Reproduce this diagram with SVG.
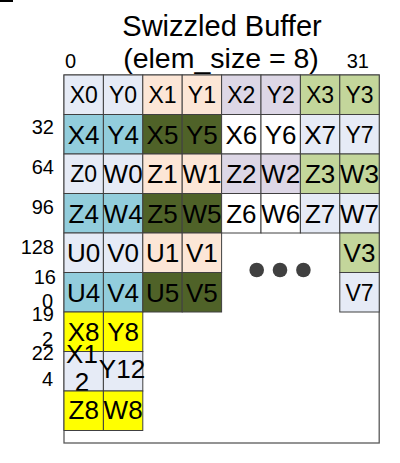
<svg xmlns="http://www.w3.org/2000/svg" width="400" height="463" viewBox="0 0 400 463">
<style>
.c{stroke:#404040;stroke-width:1}
.lb{fill:#e6ebf6}.pe{fill:#fce6d6}.la{fill:#ddd7e6}.gr{fill:#c3d69b}.tl{fill:#92cddc}.dk{fill:#4f6228}.wh{fill:#ffffff}.ye{fill:#ffff00}
.t{font-family:"Liberation Sans",Arial,sans-serif;font-size:26px;text-anchor:middle;fill:#000}
.s{font-size:23px}
.lab{font-family:"Liberation Sans",Arial,sans-serif;font-size:20px;text-anchor:end;fill:#000}
.ttl{font-family:"Liberation Sans",Arial,sans-serif;text-anchor:middle;fill:#000}
</style>
<rect width="400" height="463" fill="#fff"/>
<rect x="0" y="0" width="13" height="2" fill="#000"/>
<g id="title">
<text class="ttl" x="222" y="36" font-size="29">Swizzled Buffer</text>
<text class="ttl" x="221" y="68" font-size="28.5">(elem_size = 8)</text>
</g>
<g id="col-labels">
<text class="lab" x="65" y="68" font-size="17" text-anchor="start" style="text-anchor:start">0</text>
<text class="lab" x="369" y="68" font-size="16">31</text>
</g>
<g id="row-labels">
<text class="lab" x="54" y="134">32</text>
<text class="lab" x="54" y="174">64</text>
<text class="lab" x="54" y="214">96</text>
<text class="lab" x="54" y="254">128</text>
<text class="lab" x="56" y="284">16</text>
<text class="lab" x="53" y="308">0</text>
<text class="lab" x="54" y="321">19</text>
<text class="lab" x="53" y="346">2</text>
<text class="lab" x="54" y="360">22</text>
<text class="lab" x="53" y="386">4</text>
</g>
<rect id="buffer" x="64" y="75" width="315.2" height="368" fill="#fff" stroke="#595959" stroke-width="1.3"/>
<!-- row 0 -->
<g id="X0"><rect class="c lb" x="64" y="75" width="39.4" height="39.5"/><text class="t s" x="83.7" y="103">X0</text></g>
<g id="Y0"><rect class="c lb" x="103.4" y="75" width="39.4" height="39.5"/><text class="t s" x="123.1" y="103">Y0</text></g>
<g id="X1"><rect class="c pe" x="142.8" y="75" width="39.4" height="39.5"/><text class="t s" x="162.5" y="103">X1</text></g>
<g id="Y1"><rect class="c pe" x="182.2" y="75" width="39.4" height="39.5"/><text class="t s" x="201.9" y="103">Y1</text></g>
<g id="X2"><rect class="c la" x="221.6" y="75" width="39.4" height="39.5"/><text class="t s" x="241.3" y="103">X2</text></g>
<g id="Y2"><rect class="c la" x="261" y="75" width="39.4" height="39.5"/><text class="t s" x="280.7" y="103">Y2</text></g>
<g id="X3"><rect class="c gr" x="300.4" y="75" width="39.4" height="39.5"/><text class="t s" x="320.1" y="103">X3</text></g>
<g id="Y3"><rect class="c gr" x="339.8" y="75" width="39.4" height="39.5"/><text class="t s" x="359.5" y="103">Y3</text></g>
<!-- row 1 -->
<g id="X4"><rect class="c tl" x="64" y="114.5" width="39.4" height="39.5"/><text class="t" x="83.7" y="143.5">X4</text></g>
<g id="Y4"><rect class="c tl" x="103.4" y="114.5" width="39.4" height="39.5"/><text class="t" x="123.1" y="143.5">Y4</text></g>
<g id="X5"><rect class="c dk" x="142.8" y="114.5" width="39.4" height="39.5"/><text class="t" x="162.5" y="143.5">X5</text></g>
<g id="Y5"><rect class="c dk" x="182.2" y="114.5" width="39.4" height="39.5"/><text class="t" x="201.9" y="143.5">Y5</text></g>
<g id="X6"><rect class="c wh" x="221.6" y="114.5" width="39.4" height="39.5"/><text class="t" x="241.3" y="143.5">X6</text></g>
<g id="Y6"><rect class="c wh" x="261" y="114.5" width="39.4" height="39.5"/><text class="t" x="280.7" y="143.5">Y6</text></g>
<g id="X7"><rect class="c lb" x="300.4" y="114.5" width="39.4" height="39.5"/><text class="t" x="320.1" y="143.5">X7</text></g>
<g id="Y7"><rect class="c lb" x="339.8" y="114.5" width="39.4" height="39.5"/><text class="t s" x="359.5" y="142.5">Y7</text></g>
<!-- row 2 -->
<g id="Z0"><rect class="c lb" x="64" y="154" width="39.4" height="39.5"/><text class="t s" x="83.7" y="182">Z0</text></g>
<g id="W0"><rect class="c lb" x="103.4" y="154" width="39.4" height="39.5"/><text class="t" x="123.1" y="183">W0</text></g>
<g id="Z1"><rect class="c pe" x="142.8" y="154" width="39.4" height="39.5"/><text class="t" x="162.5" y="183">Z1</text></g>
<g id="W1"><rect class="c pe" x="182.2" y="154" width="39.4" height="39.5"/><text class="t" x="201.9" y="183">W1</text></g>
<g id="Z2"><rect class="c la" x="221.6" y="154" width="39.4" height="39.5"/><text class="t" x="241.3" y="183">Z2</text></g>
<g id="W2"><rect class="c la" x="261" y="154" width="39.4" height="39.5"/><text class="t" x="280.7" y="183">W2</text></g>
<g id="Z3"><rect class="c gr" x="300.4" y="154" width="39.4" height="39.5"/><text class="t" x="320.1" y="183">Z3</text></g>
<g id="W3"><rect class="c gr" x="339.8" y="154" width="39.4" height="39.5"/><text class="t" x="359.5" y="183">W3</text></g>
<!-- row 3 -->
<g id="Z4"><rect class="c tl" x="64" y="193.5" width="39.4" height="39.5"/><text class="t" x="83.7" y="222.5">Z4</text></g>
<g id="W4"><rect class="c tl" x="103.4" y="193.5" width="39.4" height="39.5"/><text class="t" x="123.1" y="222.5">W4</text></g>
<g id="Z5"><rect class="c dk" x="142.8" y="193.5" width="39.4" height="39.5"/><text class="t" x="162.5" y="222.5">Z5</text></g>
<g id="W5"><rect class="c dk" x="182.2" y="193.5" width="39.4" height="39.5"/><text class="t" x="201.9" y="222.5">W5</text></g>
<g id="Z6"><rect class="c wh" x="221.6" y="193.5" width="39.4" height="39.5"/><text class="t" x="241.3" y="222.5">Z6</text></g>
<g id="W6"><rect class="c wh" x="261" y="193.5" width="39.4" height="39.5"/><text class="t" x="280.7" y="222.5">W6</text></g>
<g id="Z7"><rect class="c lb" x="300.4" y="193.5" width="39.4" height="39.5"/><text class="t" x="320.1" y="222.5">Z7</text></g>
<g id="W7"><rect class="c lb" x="339.8" y="193.5" width="39.4" height="39.5"/><text class="t" x="359.5" y="222.5">W7</text></g>
<!-- row 4 -->
<g id="U0"><rect class="c lb" x="64" y="233" width="39.4" height="39.5"/><text class="t" x="83.7" y="262">U0</text></g>
<g id="V0"><rect class="c lb" x="103.4" y="233" width="39.4" height="39.5"/><text class="t" x="123.1" y="262">V0</text></g>
<g id="U1"><rect class="c pe" x="142.8" y="233" width="39.4" height="39.5"/><text class="t" x="162.5" y="262">U1</text></g>
<g id="V1"><rect class="c pe" x="182.2" y="233" width="39.4" height="39.5"/><text class="t" x="201.9" y="262">V1</text></g>
<g id="V3"><rect class="c gr" x="339.8" y="233" width="39.4" height="39.5"/><text class="t" x="359.5" y="262">V3</text></g>
<!-- row 5 -->
<g id="U4"><rect class="c tl" x="64" y="272.5" width="39.4" height="39.5"/><text class="t" x="83.7" y="301.5">U4</text></g>
<g id="V4"><rect class="c tl" x="103.4" y="272.5" width="39.4" height="39.5"/><text class="t" x="123.1" y="301.5">V4</text></g>
<g id="U5"><rect class="c dk" x="142.8" y="272.5" width="39.4" height="39.5"/><text class="t" x="162.5" y="301.5">U5</text></g>
<g id="V5"><rect class="c dk" x="182.2" y="272.5" width="39.4" height="39.5"/><text class="t" x="201.9" y="301.5">V5</text></g>
<g id="V7"><rect class="c lb" x="339.8" y="272.5" width="39.4" height="39.5"/><text class="t s" x="359.5" y="300.5">V7</text></g>
<g id="ellipsis" fill="#404040">
<circle cx="256.7" cy="270" r="7.3"/><circle cx="280" cy="270" r="7.3"/><circle cx="303.4" cy="270" r="7.3"/>
</g>
<!-- row 6 -->
<g id="X8"><rect class="c ye" x="64" y="312" width="39.4" height="39.5"/><text class="t" x="83.7" y="340.5">X8</text></g>
<g id="Y8"><rect class="c ye" x="103.4" y="312" width="39.4" height="39.5"/><text class="t" x="123.1" y="340.5">Y8</text></g>
<!-- row 7 -->
<g id="X12"><rect class="c lb" x="64" y="351.5" width="39.4" height="39.5"/><text class="t" x="82" y="363">X1</text><text class="t" x="82" y="391">2</text></g>
<g id="Y12"><rect class="c lb" x="103.4" y="351.5" width="39.4" height="39.5"/><text class="t" x="122" y="378" font-size="21">Y12</text></g>
<!-- row 8 -->
<g id="Z8"><rect class="c ye" x="64" y="391" width="39.4" height="39.5"/><text class="t" x="83.7" y="419">Z8</text></g>
<g id="W8"><rect class="c ye" x="103.4" y="391" width="39.4" height="39.5"/><text class="t" x="123.1" y="419">W8</text></g>
</svg>
